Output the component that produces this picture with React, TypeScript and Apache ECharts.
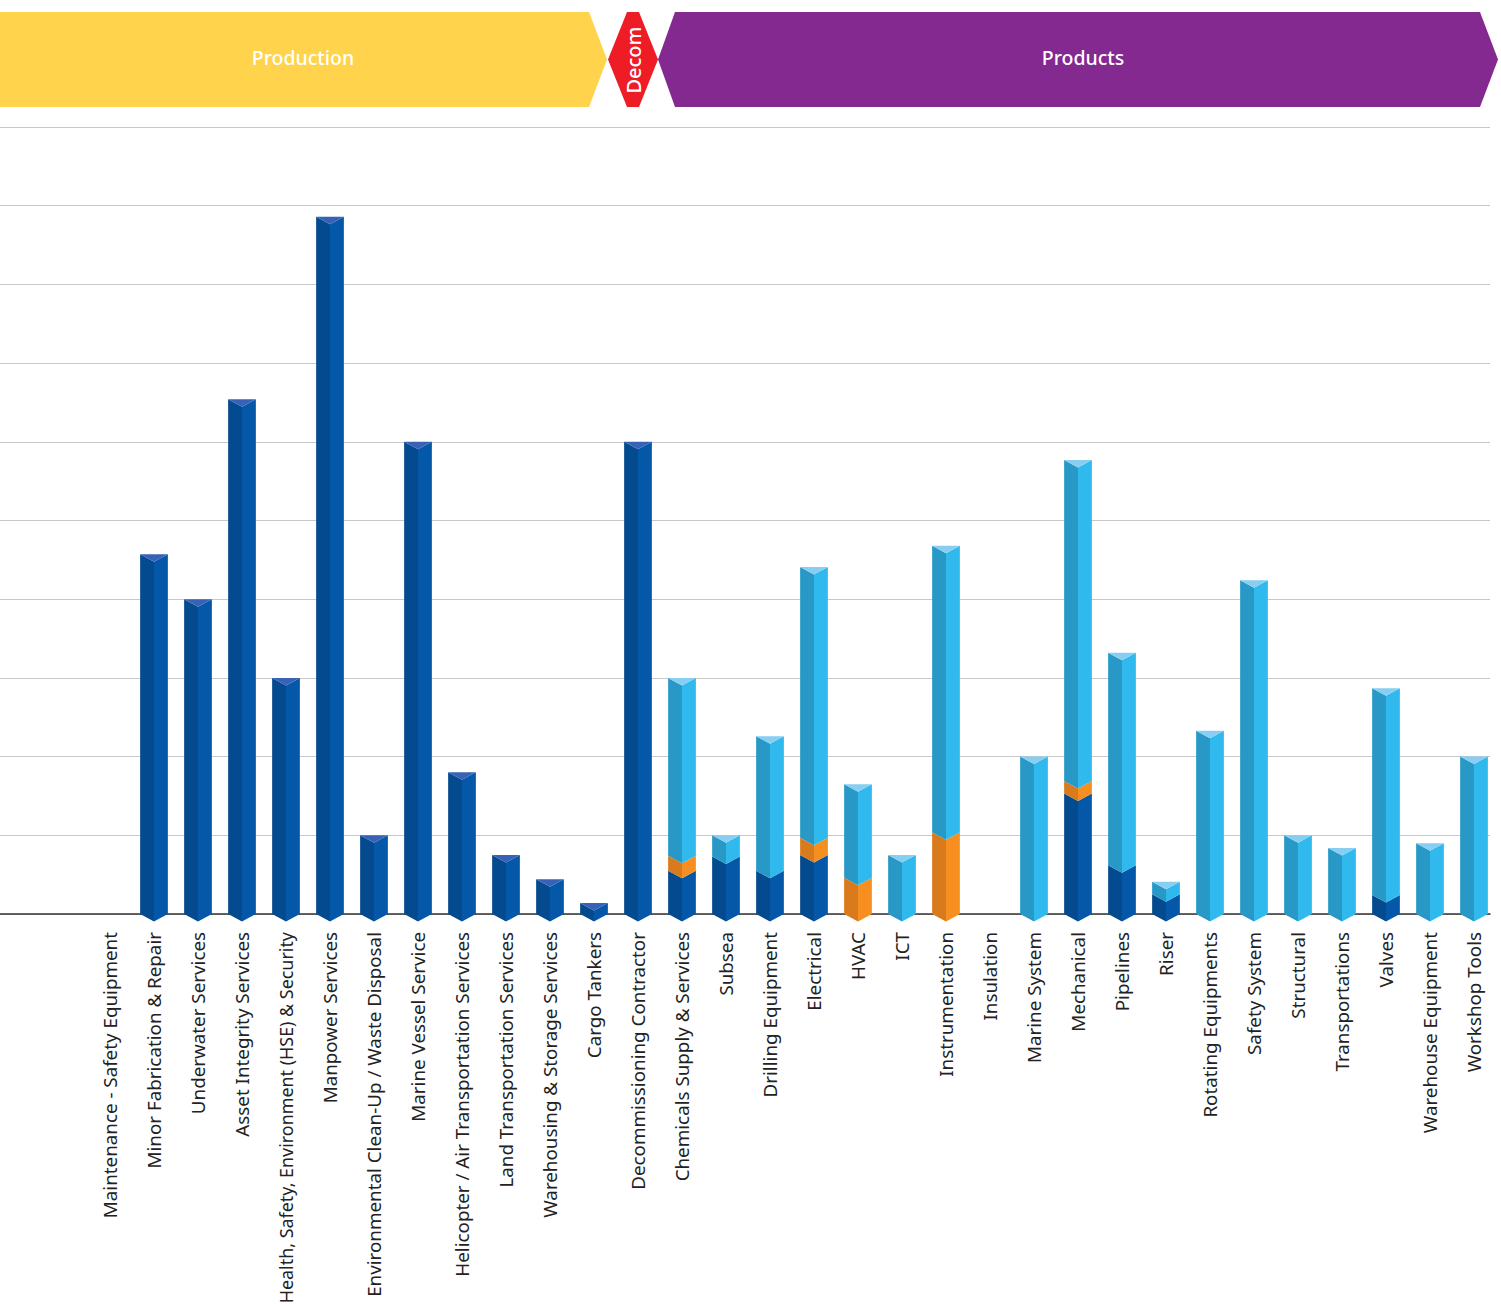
import React, { useEffect, useRef } from "react";
import * as echarts from "echarts";

const categories = [
  "Maintenance - Safety Equipment",
  "Minor Fabrication & Repair",
  "Underwater Services",
  "Asset Integrity Services",
  "Health, Safety, Environment (HSE) & Security",
  "Manpower Services",
  "Environmental Clean-Up / Waste Disposal",
  "Marine Vessel Service",
  "Helicopter / Air Transportation Services",
  "Land Transportation Services",
  "Warehousing & Storage Services",
  "Cargo Tankers",
  "Decommissioning Contractor",
  "Chemicals Supply & Services",
  "Subsea",
  "Drilling Equipment",
  "Electrical",
  "HVAC",
  "ICT",
  "Instrumentation",
  "Insulation",
  "Marine System",
  "Mechanical",
  "Pipelines",
  "Riser",
  "Rotating Equipments",
  "Safety System",
  "Structural",
  "Transportations",
  "Valves",
  "Warehouse Equipment",
  "Workshop Tools",
];

const darkValues = [
  0, 4.57, 4.0, 6.54, 3.0, 8.86, 1.0, 6.0, 1.8, 0.75, 0.44, 0.14, 6.0,
  0.55, 0.73, 0.55, 0.75, 0, 0, 0, 0, 0, 1.53, 0.62, 0.25, 0, 0, 0, 0, 0.24, 0, 0,
];
const orangeValues = [
  0, 0, 0, 0, 0, 0, 0, 0, 0, 0, 0, 0, 0,
  0.19, 0, 0, 0.22, 0.46, 0, 1.04, 0, 0, 0.16, 0, 0, 0, 0, 0, 0, 0, 0, 0,
];
const lightValues = [
  0, 0, 0, 0, 0, 0, 0, 0, 0, 0, 0, 0, 0,
  2.26, 0.27, 1.71, 3.44, 1.19, 0.75, 3.64, 0, 2.0, 4.08, 2.7, 0.16, 2.33, 4.24, 1.0, 0.84, 2.63, 0.9, 2.0,
];

const segmentColors = [
  { left: "#034a8f", right: "#0558a8", cap: "#3762b6" },
  { left: "#d97a1c", right: "#f68e20", cap: "#f9b060" },
  { left: "#2899c7", right: "#2fb9ec", cap: "#87cef2" },
];

const FONT = "'Noto Sans', 'Open Sans', sans-serif";
const LONG_LABEL = "Health, Safety, Environment (HSE) & Security";

export default function App() {
  const ref = useRef<HTMLDivElement>(null);

  useEffect(() => {
    if (!ref.current) return;
    const chart = echarts.init(ref.current, undefined, { renderer: "svg" });

    const data = categories.map((_, i) => [i, darkValues[i], orangeValues[i], lightValues[i]]);
    const axisData = categories.map((c) =>
      c === LONG_LABEL ? { value: c, textStyle: { fontSize: 17.9 } } : c
    );

    const renderItem = (params: any, api: any) => {
      const i = api.value(0);
      const vals = [api.value(1), api.value(2), api.value(3)];
      const band = api.size([1, 0])[0];
      const bw = band * 0.63;
      const xc = api.coord([i, 0])[0];
      const x0 = xc - bw / 2;
      const x1 = xc + bw / 2;
      const d = 7.5;
      const children: any[] = [];
      let base = 0;
      let topIdx = -1;
      vals.forEach((v: number, s: number) => {
        if (v > 0) topIdx = s;
      });
      vals.forEach((v: number, s: number) => {
        if (!(v > 0)) return;
        const yb = api.coord([i, base])[1];
        const yt = api.coord([i, base + v])[1];
        const c = segmentColors[s];
        children.push({
          type: "polygon",
          shape: { points: [[x0, yt], [xc, yt + d], [xc, yb + d], [x0, yb]] },
          style: { fill: c.left },
        });
        children.push({
          type: "polygon",
          shape: { points: [[xc, yt + d], [x1, yt], [x1, yb], [xc, yb + d]] },
          style: { fill: c.right },
        });
        if (s === topIdx) {
          children.push({
            type: "polygon",
            shape: { points: [[x0, yt], [x1, yt], [xc, yt + d]] },
            style: { fill: c.cap },
          });
        }
        base += v;
      });
      return { type: "group", children };
    };

    const option: any = {
      animation: false,
      backgroundColor: "#ffffff",
      grid: [
        { left: 0, right: 11, top: 127, bottom: 392, containLabel: false, outerBoundsMode: "none" },
        { left: 88, right: 5, top: 127, bottom: 392, containLabel: false, outerBoundsMode: "none" },
      ],
      xAxis: [
        {
          type: "value",
          gridIndex: 0,
          min: 0,
          max: 1,
          axisLine: { show: true, lineStyle: { color: "#333333", width: 1.5 } },
          axisTick: { show: false },
          axisLabel: { show: false },
          splitLine: { show: false },
        },
        {
          type: "category",
          gridIndex: 1,
          data: axisData,
          axisLine: { show: false },
          axisTick: { show: false },
          splitLine: { show: false },
          axisLabel: {
            interval: 0,
            rotate: 90,
            margin: 18,
            color: "#222222",
            fontSize: 18.8,
            fontFamily: FONT,
          },
        },
      ],
      yAxis: [
        {
          type: "value",
          gridIndex: 0,
          min: 0,
          max: 10,
          interval: 1,
          axisLine: { show: false },
          axisTick: { show: false },
          axisLabel: { show: false },
          splitLine: { show: true, lineStyle: { color: "#c8c8c8", width: 1 } },
        },
        {
          type: "value",
          gridIndex: 1,
          min: 0,
          max: 10,
          interval: 1,
          axisLine: { show: false },
          axisTick: { show: false },
          axisLabel: { show: false },
          splitLine: { show: false },
        },
      ],
      series: [
        {
          type: "custom",
          xAxisIndex: 1,
          yAxisIndex: 1,
          renderItem,
          data,
          z: 5,
        },
      ],
      graphic: [
        {
          type: "polygon",
          shape: { points: [[0, 12], [589, 12], [607, 59.5], [589, 107], [0, 107]] },
          style: { fill: "#ffd34b" },
        },
        {
          type: "text",
          x: 303,
          y: 57,
          style: {
            text: "Production",
            fill: "#ffffff",
            font: `500 19.5px ${FONT}`,
            align: "center",
            verticalAlign: "middle",
          },
        },
        {
          type: "polygon",
          shape: { points: [[627, 12], [639, 12], [658, 59.5], [639, 107], [627, 107], [608, 59.5]] },
          style: { fill: "#ee1c25" },
        },
        {
          type: "text",
          x: 633,
          y: 60,
          rotation: Math.PI / 2,
          style: {
            text: "Decom",
            fill: "#ffffff",
            font: `500 20px ${FONT}`,
            align: "center",
            verticalAlign: "middle",
          },
        },
        {
          type: "polygon",
          shape: { points: [[675, 12], [1480, 12], [1498, 59.5], [1480, 107], [675, 107], [658, 59.5]] },
          style: { fill: "#83298f" },
        },
        {
          type: "text",
          x: 1083,
          y: 57,
          style: {
            text: "Products",
            fill: "#ffffff",
            font: `500 19.5px ${FONT}`,
            align: "center",
            verticalAlign: "middle",
          },
        },
      ],
    };

    chart.setOption(option);
    return () => chart.dispose();
  }, []);

  return (
    <div
      ref={ref}
      style={{ position: "absolute", left: 0, top: 0, width: 1501, height: 1306 }}
    />
  );
}
